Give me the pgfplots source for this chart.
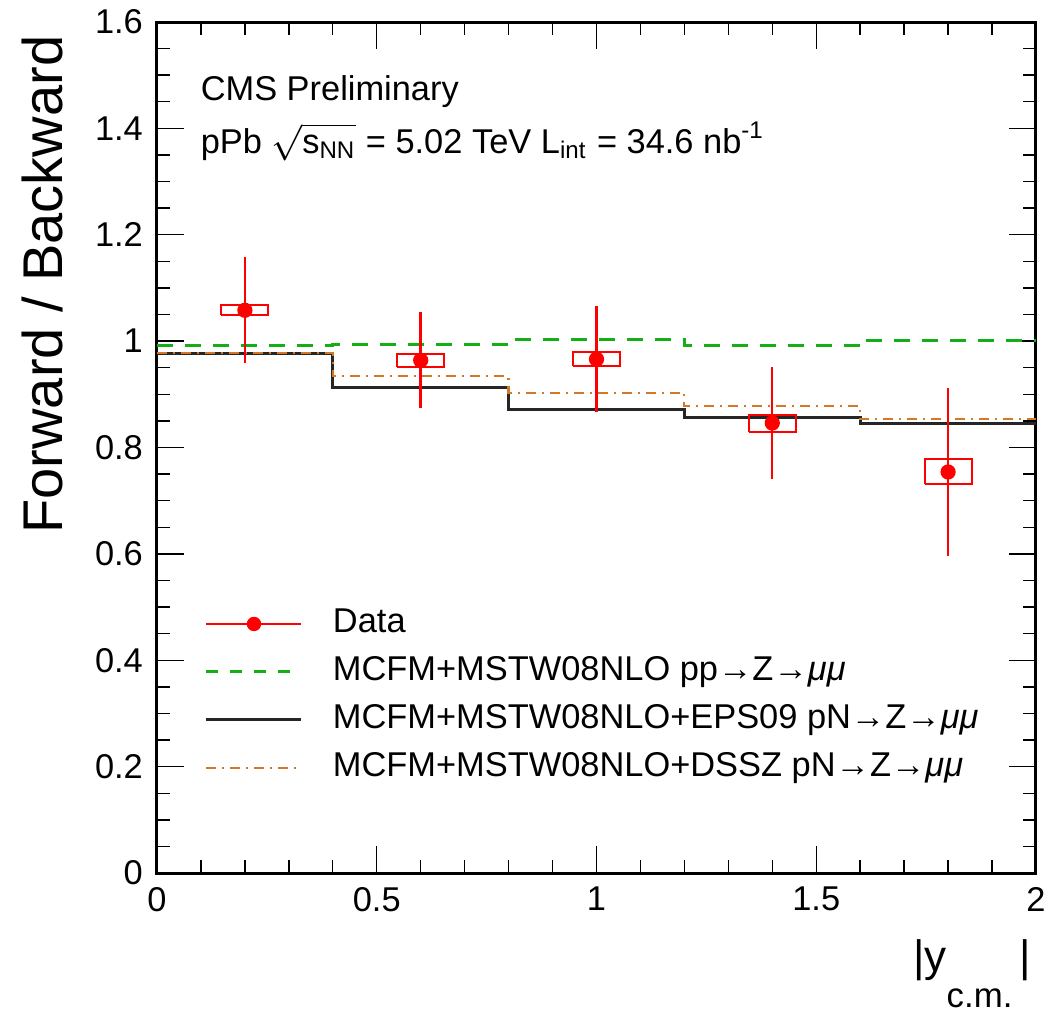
\documentclass[border=0pt]{standalone}
\usepackage{fontspec}
\setmainfont{Liberation Sans}
\usepackage{amsmath}
\usepackage{pgfplots}
\pgfplotsset{compat=1.18}
\definecolor{rootgreen}{RGB}{20,175,20}
\definecolor{rootorange}{RGB}{210,120,40}
\definecolor{rootred}{RGB}{255,0,0}
\newcommand{\fs}[1]{\fontsize{#1}{#1}\selectfont}

% data: point, stat error
\pgfplotstableread{
x    y      err
0.2  1.058  0.100
0.6  0.964  0.090
1.0  0.966  0.100
1.4  0.846  0.105
1.8  0.754  0.158
}\fbdata

\begin{document}
\begin{tikzpicture}
\useasboundingbox (-39.25pt,-34.25pt) rectangle (224.25pt,218.25pt);
\begin{axis}[
  scale only axis, width=219.75pt, height=212.75pt,
  xmin=0, xmax=2, ymin=0, ymax=1.6,
  xtick={0,0.5,1,1.5,2},
  ytick={0,0.2,0.4,0.6,0.8,1,1.2,1.4,1.6},
  minor x tick num=4, minor y tick num=3,
  tick align=inside, xtick pos=both, ytick pos=both,
  major tick length=6.75pt, minor tick length=3.25pt,
  every tick/.style={black, line width=0.35pt},
  axis line style={line width=0.75pt},
  ticklabel style={font=\fs{8.6}},
  /pgf/number format/assume math mode=true,
  ylabel={Forward / Backward},
  ylabel style={at={(axis description cs:-0.107,0.985)}, anchor=base east, inner sep=0pt, font=\fs{14}},
  xlabel={|y\raisebox{-9pt}{\fs{8.7}c.m.}\,|},
  xlabel style={at={(axis description cs:0.9955,-0.116)}, anchor=base east, inner sep=0pt, font=\fs{11}},
  legend style={draw=none, fill=none, at={(axis description cs:0.0546,0.3126)},
    anchor=north west, inner sep=0pt, outer sep=0pt, row sep=3.5pt, font=\fs{8.6},
    nodes={inner sep=0pt, text height=6.5pt, text depth=2pt}},
  legend cell align=left,
  /tikz/every odd column/.append style={column sep=7.5pt},
  legend image code/.code={\draw[#1] (0pt,0pt) -- (23.75pt,0pt);},
]
% model predictions, bins of 0.4 in |y|
\addplot[black!85, line width=0.75pt, const plot, forget plot]
  coordinates {(0,0.977) (0.4,0.912) (0.8,0.872) (1.2,0.857) (1.6,0.846) (2.0,0.846)};
\addplot[rootorange, line width=0.55pt, dash pattern=on 2.5pt off 1.5pt on 0.5pt off 1.5pt, const plot, forget plot]
  coordinates {(0,0.977) (0.4,0.934) (0.8,0.903) (1.2,0.878) (1.6,0.853) (2.0,0.853)};
\addplot[rootgreen, line width=0.75pt, dash pattern=on 4pt off 3pt, const plot, forget plot]
  coordinates {(0,0.992) (0.4,0.994) (0.8,1.004) (1.2,0.991) (1.6,1.002) (2.0,1.002)};
% systematic boxes
\addplot[rootred, line width=0.5pt, unbounded coords=jump, forget plot] coordinates {
  (0.1465,1.0485) (0.2535,1.0485) (0.2535,1.0675) (0.1465,1.0675) (0.1465,1.0485) (nan,nan)
  (0.5465,0.952) (0.6535,0.952) (0.6535,0.976) (0.5465,0.976) (0.5465,0.952) (nan,nan)
  (0.9465,0.953) (1.0535,0.953) (1.0535,0.979) (0.9465,0.979) (0.9465,0.953) (nan,nan)
  (1.3465,0.830) (1.4535,0.830) (1.4535,0.862) (1.3465,0.862) (1.3465,0.830) (nan,nan)
  (1.7465,0.731) (1.8535,0.731) (1.8535,0.778) (1.7465,0.778) (1.7465,0.731)
};
% data with statistical errors
\addplot[rootred, only marks, mark=*, mark size=1.6pt, line width=0.6pt, forget plot,
  error bars/.cd, y dir=both, y explicit, error mark=none,
  error bar style={line width=0.6pt}]
  table[x=x, y=y, y error=err] {\fbdata};

% legend
\addlegendimage{legend image code/.code={%
  \draw[rootred, line width=0.6pt] (0pt,0pt) -- (23.75pt,0pt);
  \fill[rootred] (11.875pt,0pt) circle (1.6pt);}}
\addlegendentry{Data}
\addlegendimage{rootgreen, line width=0.75pt, dash pattern=on 3pt off 3pt}
\addlegendentry{MCFM+MSTW08NLO pp→Z→{\itshape μμ}}
\addlegendimage{black!85, line width=0.75pt}
\addlegendentry{MCFM+MSTW08NLO+EPS09 pN→Z→{\itshape μμ}}
\addlegendimage{rootorange, line width=0.55pt, dash pattern=on 2.5pt off 1.5pt on 0.5pt off 1.5pt}
\addlegendentry{MCFM+MSTW08NLO+DSSZ pN→Z→{\itshape μμ}}

\node[anchor=base west, inner sep=0pt, font=\fs{8.6}] at (axis description cs:0.0489,0.9072) {CMS Preliminary};
\node[anchor=base west, inner sep=0pt, font=\fs{8.6}] at (axis description cs:0.0489,0.845)
  {pPb $\smash{\sqrt{\smash[b]{\text{s}_{\text{NN}}}}}$ = 5.02 TeV L$_{\text{int}}$ = 34.6 nb$^{\text{-1}}$};
\end{axis}
\end{tikzpicture}
\end{document}
